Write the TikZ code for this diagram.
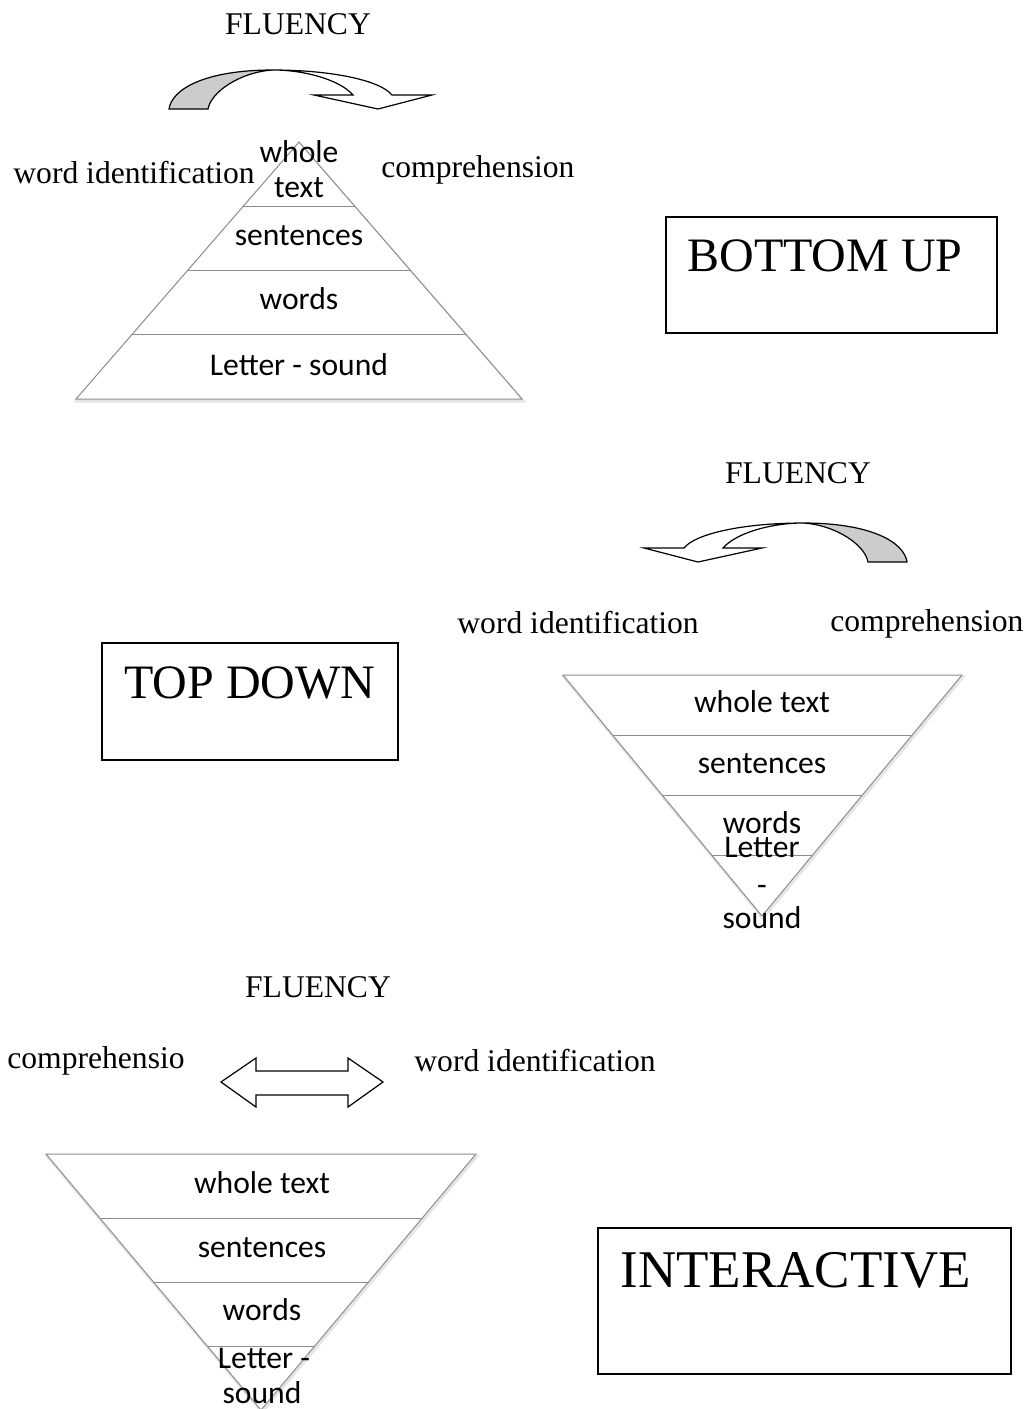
\documentclass[tikz,border=0pt]{standalone}
\usepackage{fontspec}
\setmainfont{Liberation Serif}
\newfontfamily\calfont{Carlito}
\usetikzlibrary{calc}

\begin{document}
\begin{tikzpicture}[x=0.5pt, y=-0.5pt,
    lbl/.style = {inner sep=0pt, anchor=base, font=\fontsize{15.8}{19}\selectfont},
    lvl/.style = {inner sep=0pt, anchor=base, font=\calfont\fontsize{15.8}{19}\selectfont},
    ttl/.style = {inner sep=0pt, anchor=base west, font=\fontsize{24}{28}\selectfont},
    tri/.style = {draw=black!45, line width=0.5pt},
    trishade/.style = {draw=black!10, line width=1.5pt},
    frame/.style = {draw, line width=1pt},
    outline/.style = {draw, line width=0.6pt, line join=miter},
    bentarrow/.pic = {
      % back half of the ribbon
      \path[outline, fill=black!20] (-104,39) .. controls (-101,19) and (-68,0) .. (0,0)
        .. controls (-33,2) and (-62,22) .. (-65,39) -- cycle;
      % front half with the head
      \path[outline, fill=white] (0,0) .. controls (57,0) and (107,10) .. (119,25)
        -- (159,25) -- (105,39) -- (41,25) -- (80,25)
        .. controls (67,10) and (32,0) .. (0,0) -- cycle;
    }]
  \useasboundingbox (0,0) rectangle (1035,1409);

  % bottom up
  \begin{scope}[shift={(1,2)}]
    \draw[trishade] (299,142) -- (522,399) -- (76,399) -- cycle;
  \end{scope}
  \draw[tri, fill=white] (299,142) -- (522,399) -- (76,399) -- cycle;
  \foreach \f in {0.25,0.5,0.75}
    \draw[tri] ($(299,142)!\f!(76,399)$) -- ($(299,142)!\f!(522,399)$);
  \node[lvl] (t1whole) at (299,162) {whole};
  \node[lvl] (t1text) at (299,197) {text};
  \node[lvl] (t1sent) at (299,245) {sentences};
  \node[lvl] (t1words) at (299,309) {words};
  \node[lvl] (t1letter) at (299,375) {Letter - sound};

  \node[lbl] (flu1) at (298,34) {FLUENCY};
  \pic at (273,70) {bentarrow};
  \node[lbl, anchor=base west] (wid1) at (13,183) {word identification};
  \node[lbl, anchor=base west] (com1) at (381,177) {comprehension};

  \draw[frame] (666,217) rectangle (997,333);
  \node[ttl] (bu) at (687,271) {BOTTOM UP};

  % top down
  \node[lbl] (flu2) at (798,483) {FLUENCY};
  \pic[xscale=-1] at (803,523) {bentarrow};
  \node[lbl, anchor=base west] (wid2) at (457,633) {word identification};
  \node[lbl, anchor=base west] (com2) at (830,631) {comprehension};

  \draw[frame] (102,643) rectangle (398,760);
  \node[ttl] (td) at (124,698) {TOP DOWN};

  \begin{scope}[shift={(1,2)}]
    \draw[trishade] (563,675) -- (962,675) -- (762,916) -- cycle;
  \end{scope}
  \draw[tri, fill=white] (563,675) -- (962,675) -- (762,916) -- cycle;
  \foreach \f in {0.25,0.5,0.75}
    \draw[tri] ($(563,675)!\f!(762,916)$) -- ($(962,675)!\f!(762,916)$);
  \node[lvl] (t2whole) at (762,712) {whole text};
  \node[lvl] (t2sent) at (762,773) {sentences};
  \node[lvl] (t2words) at (762,833) {words};
  \node[lvl] (t2letter) at (762,857) {Letter};
  \node[lvl] (t2dash) at (762,895) {-};
  \node[lvl] (t2sound) at (762,928) {sound};

  % interactive
  \node[lbl] (flu3) at (318,997) {FLUENCY};
  \node[lbl, anchor=base west] (com3) at (7,1068) {comprehensio};
  \draw[outline] (221,1082) -- (256,1058) -- (256,1071) -- (348,1071) -- (348,1058)
    -- (383,1082) -- (348,1107) -- (348,1095) -- (256,1095) -- (256,1107) -- cycle;
  \node[lbl, anchor=base west] (wid3) at (414,1071) {word identification};

  \begin{scope}[shift={(1,2)}]
    \draw[trishade] (46,1154) -- (476,1154) -- (261,1410) -- cycle;
  \end{scope}
  \draw[tri, fill=white] (46,1154) -- (476,1154) -- (261,1410) -- cycle;
  \foreach \f in {0.25,0.5,0.75}
    \draw[tri] ($(46,1154)!\f!(261,1410)$) -- ($(476,1154)!\f!(261,1410)$);
  \node[lvl] (t3whole) at (262,1193) {whole text};
  \node[lvl] (t3sent) at (262,1257) {sentences};
  \node[lvl] (t3words) at (262,1320) {words};
  \node[lvl] (t3letter) at (264,1368) {Letter -};
  \node[lvl] (t3sound) at (262,1403) {sound};

  \draw[frame] (598,1228) rectangle (1011,1374);
  \node[ttl, font=\fontsize{26.5}{30}\selectfont] (ia) at (620,1287) {INTERACTIVE};
\end{tikzpicture}
\end{document}
